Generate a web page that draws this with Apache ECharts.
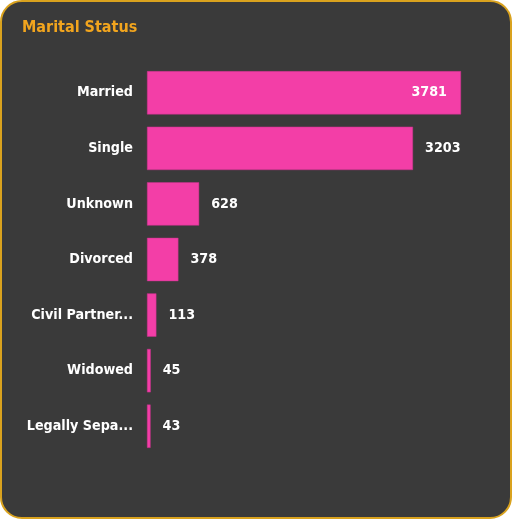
<!DOCTYPE html>
<html><head><meta charset="utf-8">
<script src="https://cdn.jsdelivr.net/npm/echarts@6/dist/echarts.min.js"></script>
<style>
html,body{margin:0;padding:0;background:#ffffff;}
#box{position:absolute;left:0;top:0;width:508px;height:515px;border:2px solid #D9A21E;border-radius:22px;background:#3A3A3A;overflow:hidden;}
#chart{position:absolute;left:-2px;top:-2px;width:512px;height:519px;}
</style></head>
<body><div id="box"><div id="chart"></div></div>
<script>
const categories = ["Married","Single","Unknown","Divorced","Civil Partnership","Widowed","Legally Separated"];
const values = [3781,3203,628,378,113,45,43];
const titleText = "Marital Status";
const FONT = '"DejaVu Sans Condensed", "DejaVu Sans", sans-serif';

const chart = echarts.init(document.getElementById('chart'), null, {renderer:'canvas'});
chart.setOption({
  backgroundColor: 'transparent',
  animation: false,
  title: {
    text: titleText, left: 17, top: 15,
    textStyle: {color:'#F2A51E', fontSize:16, fontWeight:'bold', fontFamily: FONT}
  },
  grid: {left:147, right:51, top:65, bottom:65, containLabel:false},
  xAxis: {type:'value', min:0, max:3781, show:false},
  yAxis: {
    type:'category', data: categories, inverse:true,
    axisLine:{show:false}, axisTick:{show:false}, splitLine:{show:false},
    axisLabel:{color:'#FFFFFF', fontSize:14.2, fontWeight:'bold', fontFamily: FONT, margin:14,
      width:110, overflow:'truncate', ellipsis:'...'}
  },
  series: [{
    type:'bar',
    data: values.map((v,i)=>({value:v, label: i===0 ? {position:'insideRight', distance:14} : {}})),
    barCategoryGap:'22%',
    itemStyle:{color:'#F33EA7', borderColor:'#C8338C', borderWidth:0.5},
    label:{show:true, position:'right', distance:12, color:'#FFFFFF', fontSize:14.2, fontWeight:'bold', fontFamily: FONT}
  }]
});
</script></body></html>
